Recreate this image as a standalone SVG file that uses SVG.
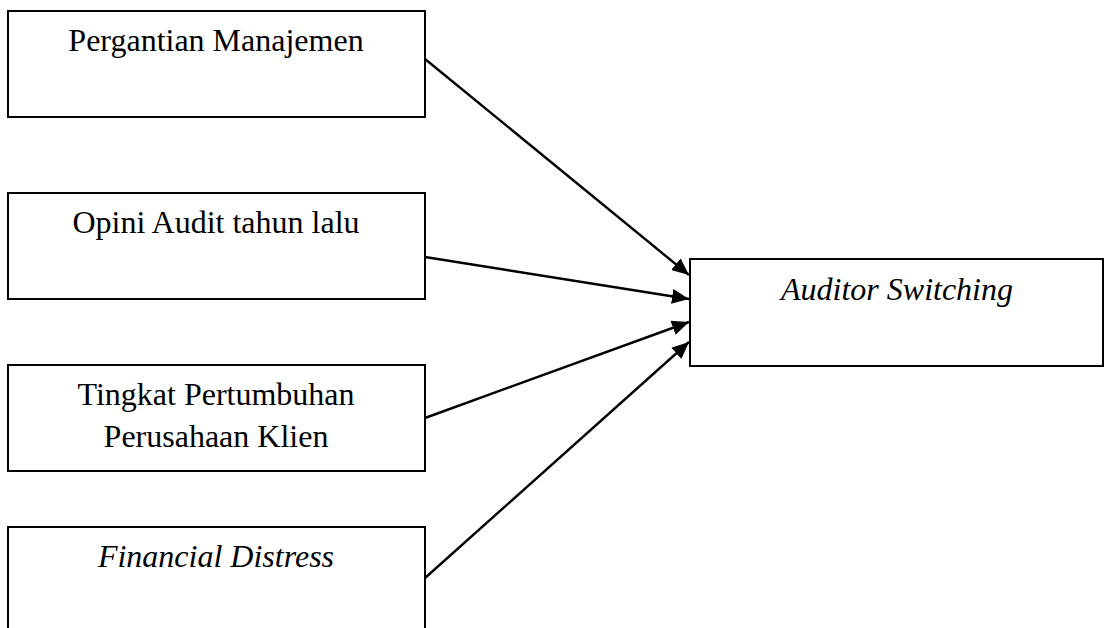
<svg xmlns="http://www.w3.org/2000/svg" width="1105" height="628" viewBox="0 0 1105 628">
<style>
.box{fill:#fff;stroke:#000;stroke-width:2}
.t{font-family:"Liberation Serif","Times New Roman",serif;font-size:32px;fill:#000;text-anchor:middle}
.i{font-style:italic}
.c{stroke:#000;stroke-width:2.4;fill:none;marker-end:url(#ah)}
</style>
<defs>
<marker id="ah" markerUnits="userSpaceOnUse" markerWidth="18" markerHeight="16" refX="17" refY="8" orient="auto">
<path d="M0,0.5 L17,8 L0,15.5 Z" fill="#000"/>
</marker>
</defs>
<rect width="1105" height="628" fill="#fff"/>
<g id="n1"><rect class="box" x="8" y="11" width="417" height="106"/><text class="t" x="216" y="51">Pergantian Manajemen</text></g>
<g id="n2"><rect class="box" x="8" y="193" width="417" height="106"/><text class="t" x="216" y="233">Opini Audit tahun lalu</text></g>
<g id="n3"><rect class="box" x="8" y="365" width="417" height="106"/><text class="t" x="216" y="405">Tingkat Pertumbuhan</text><text class="t" x="216" y="447">Perusahaan Klien</text></g>
<g id="n4"><rect class="box" x="8" y="527" width="417" height="110"/><text class="t i" x="216" y="567">Financial Distress</text></g>
<g id="n5"><rect class="box" x="690" y="259" width="413" height="107"/><text class="t i" x="897" y="300">Auditor Switching</text></g>
<g id="connectors">
<line class="c" x1="425" y1="59" x2="689" y2="275"/>
<line class="c" x1="425" y1="257" x2="689" y2="299"/>
<line class="c" x1="425" y1="418" x2="689" y2="322"/>
<line class="c" x1="425" y1="578" x2="689" y2="342"/>
</g>
</svg>
